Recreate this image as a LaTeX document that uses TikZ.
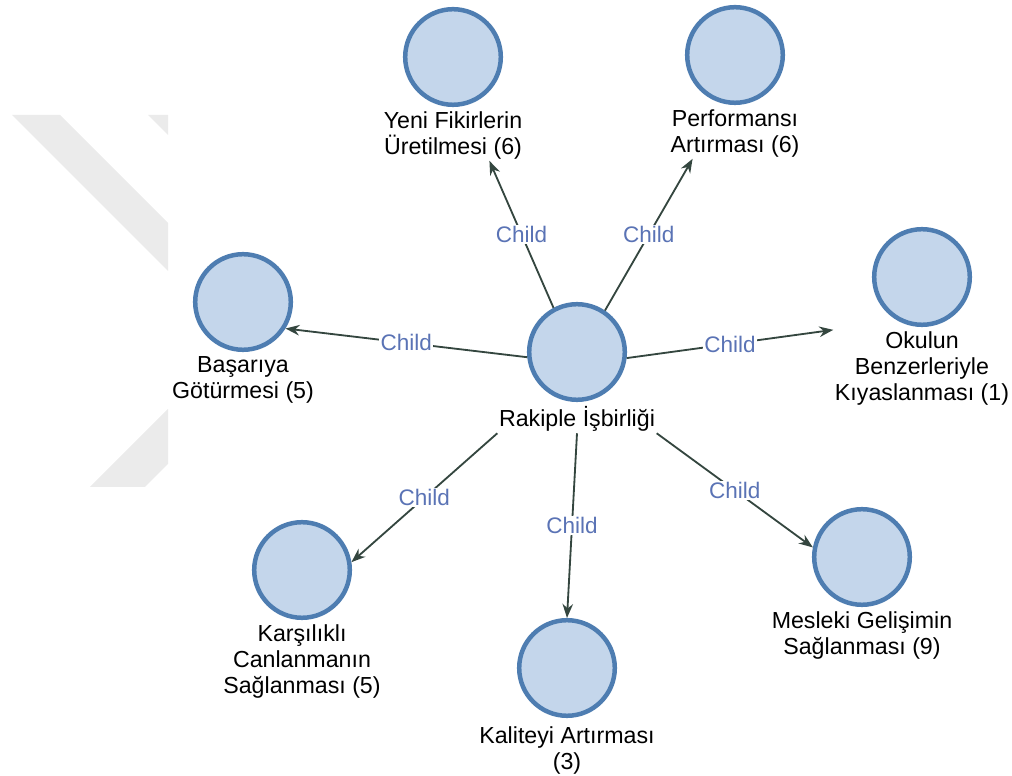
\documentclass[tikz,border=0pt]{standalone}
\usepackage{fontspec}
\setmainfont{Liberation Sans}
\usetikzlibrary{positioning,arrows.meta}

\definecolor{ringblue}{HTML}{4E7DB1}
\definecolor{fillblue}{HTML}{C4D6EB}
\definecolor{edgegreen}{HTML}{34463F}
\definecolor{childblue}{HTML}{5A73B5}
\definecolor{markgray}{HTML}{EBEBEB}

\tikzset{
  konu/.style={circle,draw=ringblue,fill=fillblue,line width=3.2pt,minimum size=2.39cm,inner sep=0pt},
  konuad/.style={align=center,inner sep=1pt,font=\fontsize{16.5}{18.5}\selectfont},
  cocuk/.style={draw=edgegreen,line width=1.3pt,-{Stealth[length=10pt,width=7.5pt]}},
  cocukad/.style={midway,fill=white,inner sep=1pt,text=childblue,font=\fontsize{16}{18}\selectfont}
}

\begin{document}
\begin{tikzpicture}

  \useasboundingbox (0,0) rectangle (25.3,19.4);

  \fill[markgray] (0.3,16.525) -- (1.5,16.525) -- (4.2,13.825) -- (4.2,12.625) -- cycle;
  \fill[markgray] (3.7,16.525) -- (4.2,16.525) -- (4.2,16.025) -- cycle;
  \fill[markgray] (2.25,7.225) -- (3.625,7.225) -- (4.2,7.8) -- (4.2,9.175) -- cycle;

  \node (rakip) at (14.425,10.6) [konu] {};
  \node (rakiplbl) [konuad,below=2pt of rakip] {Rakiple İşbirliği};

  \node (yeni) at (11.325,17.975) [konu] {};
  \node (yenilbl) [konuad,below=2pt of yeni] {Yeni Fikirlerin\\Üretilmesi (6)};

  \node (perf) at (18.375,18.025) [konu] {};
  \node (perflbl) [konuad,below=2pt of perf] {Performansı\\Artırması (6)};

  \node (okul) at (23.05,12.475) [konu] {};
  \node (okullbl) [konuad,below=2pt of okul] {Okulun\\Benzerleriyle\\Kıyaslanması (1)};

  \node (basari) at (6.075,11.85) [konu] {};
  \node (basarilbl) [konuad,below=2pt of basari] {Başarıya\\Götürmesi (5)};

  \node (karsi) at (7.55,5.15) [konu] {};
  \node (karsilbl) [konuad,below=2pt of karsi] {Karşılıklı\\Canlanmanın\\Sağlanması (5)};

  \node (kalite) at (14.175,2.7) [konu] {};
  \node (kalitelbl) [konuad,below=5pt of kalite] {Kaliteyi Artırması\\(3)};

  \node (mesleki) at (21.55,5.475) [konu] {};
  \node (meslekilbl) [konuad,below=2pt of mesleki] {Mesleki Gelişimin\\Sağlanması (9)};

  \draw[cocuk] (rakip.118) -- node[cocukad] {Child} (yenilbl.-35);
  \draw[cocuk] (rakip.56) -- node[cocukad] {Child} (perflbl.211);
  \draw[cocuk] (rakip.186) -- node[cocukad] {Child} (basari.-32);
  \draw[cocuk] (rakip.-7) -- node[cocukad] {Child} (okullbl.north west);
  \draw[cocuk] (rakiplbl.south west) -- node[cocukad] {Child} (karsi.9);
  \draw[cocuk] (rakiplbl.south) -- node[cocukad] {Child} (kalite.north);
  \draw[cocuk] (rakiplbl.south east) -- node[cocukad] {Child} (mesleki.169);

\end{tikzpicture}
\end{document}
